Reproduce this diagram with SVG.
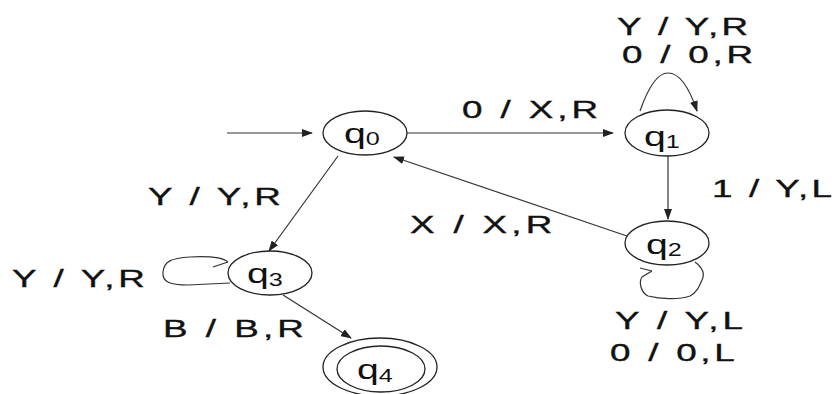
<svg xmlns="http://www.w3.org/2000/svg" width="835" height="394" viewBox="0 0 835 394">
<style>
.st{fill:none;stroke:#222;stroke-width:1.3}
.ed{fill:none;stroke:#333;stroke-width:1.2}
.lb{font-family:"Liberation Sans",Arial,sans-serif;font-size:23px;fill:#111;stroke:#111;stroke-width:0.35}
.nq{font-family:"Liberation Sans",Arial,sans-serif;font-size:28px;fill:#111}
.sb{font-size:18px}
</style>
<defs>
<marker id="ah" markerUnits="userSpaceOnUse" markerWidth="11" markerHeight="8" refX="10" refY="4" orient="auto">
<path d="M0,0 L11,4 L0,8 z" fill="#222"/>
</marker>
</defs>
<rect width="835" height="394" fill="#fff"/>
<g id="connectors">
<path class="ed" d="M227,133 L312,133" marker-end="url(#ah)"/>
<path class="ed" d="M407,133 L613,133" marker-end="url(#ah)"/>
<path class="ed" d="M668,156 L668,219" marker-end="url(#ah)"/>
<path class="ed" d="M627,236 L394,157" marker-end="url(#ah)"/>
<path class="ed" d="M338,156 L269,251" marker-end="url(#ah)"/>
<path class="ed" d="M283,295 L351,338" marker-end="url(#ah)"/>
<path class="ed" d="M640,111 C648,88 657,73 668,73 C681,73 690,90 697,111" marker-end="url(#ah)"/>
<path class="ed" d="M695,262 C703,268 705,274 702,280 C699,287 697,292 690,296 C678,300 660,299 648,296 C640,292 639,281 642,277 L652,271 M640,268 L652,271"/>
<path class="ed" d="M230,283 L188,285 C170,285 162,282 163,272 C164,262 170,258 190,257 C210,256 222,257 228,262 M213,267 L228,262"/>
<text class="lb" transform="translate(462,118) scale(1.6,1)" textLength="85" lengthAdjust="spacing">0 / X,R</text>
<text class="lb" transform="translate(617,35) scale(1.6,1)" textLength="82" lengthAdjust="spacing">Y / Y,R</text>
<text class="lb" transform="translate(622,63) scale(1.6,1)" textLength="82" lengthAdjust="spacing">0 / 0,R</text>
<text class="lb" transform="translate(712,197) scale(1.6,1)" textLength="75" lengthAdjust="spacing">1 / Y,L</text>
<text class="lb" transform="translate(410,233) scale(1.6,1)" textLength="89" lengthAdjust="spacing">X / X,R</text>
<text class="lb" transform="translate(615,329) scale(1.6,1)" textLength="80" lengthAdjust="spacing">Y / Y,L</text>
<text class="lb" transform="translate(610,361) scale(1.6,1)" textLength="78" lengthAdjust="spacing">0 / 0,L</text>
<text class="lb" transform="translate(148,205) scale(1.6,1)" textLength="83" lengthAdjust="spacing">Y / Y,R</text>
<text class="lb" transform="translate(12,287) scale(1.6,1)" textLength="83" lengthAdjust="spacing">Y / Y,R</text>
<text class="lb" transform="translate(163,337) scale(1.6,1)" textLength="88" lengthAdjust="spacing">B / B,R</text>
</g>
<g id="q0">
<ellipse class="st" cx="365" cy="133" rx="42" ry="22"/>
<text class="nq" transform="translate(344,143) scale(1.4,1)">q<tspan class="sb" dy="2" dx="0">0</tspan></text>
</g>
<g id="q1">
<ellipse class="st" cx="667" cy="133" rx="42" ry="23"/>
<text class="nq" transform="translate(644,146) scale(1.4,1)">q<tspan class="sb" dy="2" dx="0">1</tspan></text>
</g>
<g id="q2">
<ellipse class="st" cx="667" cy="243" rx="42" ry="22"/>
<text class="nq" transform="translate(646,254) scale(1.4,1)">q<tspan class="sb" dy="2" dx="0">2</tspan></text>
</g>
<g id="q3">
<ellipse class="st" cx="270" cy="273" rx="42" ry="22"/>
<text class="nq" transform="translate(247,283) scale(1.4,1)">q<tspan class="sb" dy="3" dx="0">3</tspan></text>
</g>
<g id="q4">
<ellipse class="st" cx="380" cy="367" rx="57" ry="29"/>
<ellipse class="st" cx="381" cy="369" rx="44" ry="23"/>
<text class="nq" transform="translate(357,379) scale(1.4,1)">q<tspan class="sb" dy="3" dx="0">4</tspan></text>
</g>
</svg>
